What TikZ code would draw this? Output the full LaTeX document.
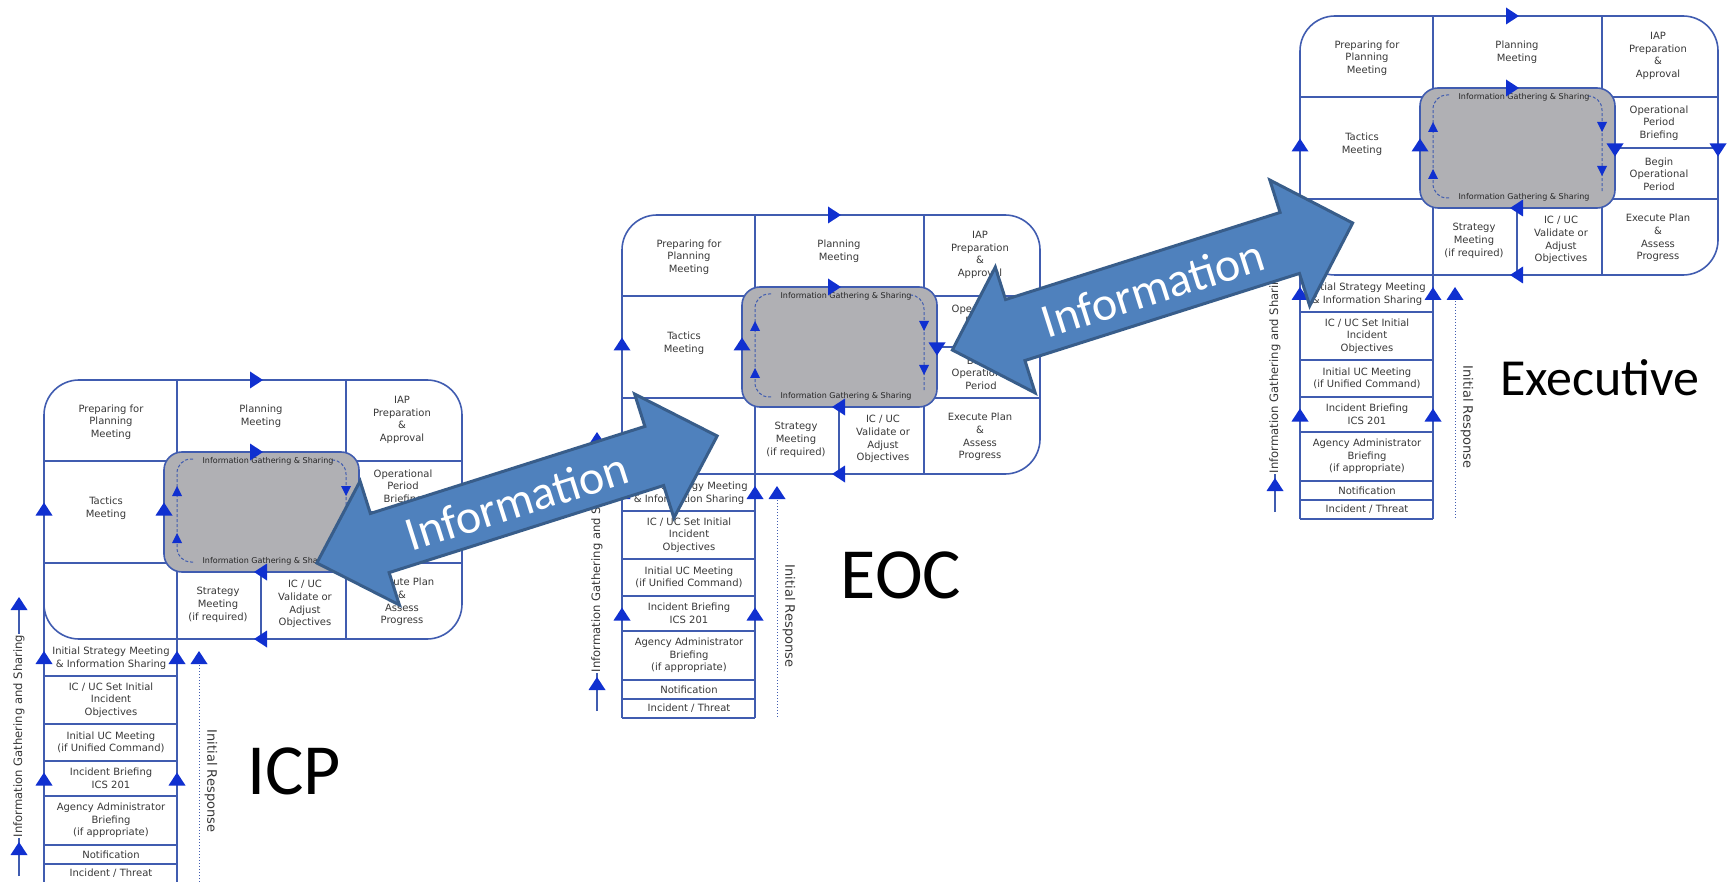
\documentclass[tikz,border=0pt]{standalone}
\usepackage{fontspec}
\newfontfamily\dejavu{DejaVu Sans}
\newfontfamily\carlito{Carlito}
\newcommand{\pcellfont}{\dejavu\fontsize{10}{12.7}\selectfont}
\newcommand{\pigsfont}{\dejavu\fontsize{8}{9}\selectfont}
\newcommand{\pgatherfont}{\dejavu\fontsize{11.6}{13}\selectfont}
\newcommand{\prespfont}{\dejavu\fontsize{13}{15}\selectfont}
\newcommand{\pbigfont}{\carlito\fontsize{72}{80}\selectfont}
\newcommand{\pexecfont}{\carlito\fontsize{52}{60}\selectfont}
\newcommand{\parrowfont}{\carlito\fontsize{48}{54}\selectfont}

\definecolor{pblue}{RGB}{64,92,176}
\definecolor{ptri}{RGB}{16,48,208}
\definecolor{pgrey}{RGB}{176,176,180}
\definecolor{ptext}{RGB}{55,55,55}
\definecolor{ablue}{RGB}{79,129,189}
\definecolor{aedge}{RGB}{56,93,138}

\tikzset{
    pline/.style={draw=pblue, line width=1.6pt},
    dline/.style={draw=pblue, line width=1pt, dash pattern=on 3pt off 2pt},
    rline/.style={draw=pblue, line width=1pt, dotted},
    cell/.style={align=center, text=ptext, inner sep=0pt, font=\pcellfont},
    igs/.style={text=black!85, inner sep=0pt, font=\pigsfont},
    gathertext/.style={text=ptext, fill=white, inner sep=1pt, font=\pgatherfont},
    resptext/.style={text=ptext, inner sep=0pt, font=\prespfont},
    biglabel/.style={inner sep=0pt, font=\pbigfont},
    infoarrow/.style={fill=ablue, draw=aedge, line width=3pt, line join=miter},
    infotext/.style={text=white, inner sep=0pt, font=\parrowfont},
    tri/.pic={\fill[ptri] (-8.5,6.5) -- (8.5,6.5) -- (0,-6.5) -- cycle;},
    smalltri/.pic={\fill[ptri] (-5,5) -- (5,5) -- (0,-5) -- cycle;},
    planningp/.pic={
        % frame and grid
        \draw[pline, rounded corners=35pt] (0,0) rectangle (418,259);
        \draw[pline] (0,35) -- (0,503);
        \draw[pline] (133,0) -- (133,503);
        \draw[pline] (302,0) -- (302,259);
        \draw[pline] (0,81) -- (418,81);
        \draw[pline] (0,183) -- (418,183);
        \draw[pline] (302,132) -- (418,132);
        \draw[pline] (217,192) -- (217,259);
        \foreach \y in {296,344,381,416,465,484,503}
            \draw[pline] (0,\y) -- (133,\y);
        % information gathering loop
        \draw[pline, fill=pgrey, rounded corners=18pt] (120,72) rectangle (315,192);
        \draw[dline, rounded corners=14pt] (149,79) -- (133,79) -- (133,182) -- (149,182);
        \draw[dline, rounded corners=14pt] (288,80) -- (302,80) -- (302,176);
        \node[igs] (-igstop) at (224,81) {Information Gathering \& Sharing};
        \node[igs] (-igsbot) at (224,181) {Information Gathering \& Sharing};
        \pic at (133,111) {smalltri};
        \pic at (133,158) {smalltri};
        \pic[rotate=180] at (302,111) {smalltri};
        \pic[rotate=180] at (302,155) {smalltri};
        % cycle arrows
        \pic[rotate=-90] at (212.5,0) {tri};
        \pic[rotate=-90] at (212.5,72) {tri};
        \pic at (0,129) {tri};
        \pic at (120,129) {tri};
        \pic[rotate=180] at (315,134) {tri};
        \pic[rotate=180] at (418,134) {tri};
        \pic[rotate=90] at (216.5,192) {tri};
        \pic[rotate=90] at (216.5,259) {tri};
        \pic at (0,277.5) {tri};
        \pic at (133,277.5) {tri};
        \pic at (0,399) {tri};
        \pic at (133,399) {tri};
        % initial response
        \draw[rline] (155,285) -- (155,503);
        \pic at (155,277.5) {tri};
        \node[resptext, rotate=-90] (-response) at (167,401) {Initial Response};
        % side arrow
        \draw[pline] (-25,496) -- (-25,230);
        \node[gathertext, rotate=90] (-gather) at (-25,356) {Information Gathering and Sharing};
        \pic at (-25,223.5) {tri};
        \pic at (-25,468.5) {tri};
        % cells
        \node[cell] (-prep) at (67,42) {Preparing for\\Planning\\Meeting};
        \node[cell] (-plan) at (217,36) {Planning\\Meeting};
        \node[cell] (-iap) at (358,40) {IAP\\Preparation\\\&\\Approval};
        \node[cell] (-tactics) at (62,128) {Tactics\\Meeting};
        \node[cell] (-opbrief) at (359,107) {Operational\\Period\\Briefing};
        \node[cell] (-begin) at (359,158) {Begin\\Operational\\Period};
        \node[cell] (-strategy) at (174,225) {Strategy\\Meeting\\(if required)};
        \node[cell] (-validate) at (261,224) {IC / UC\\Validate or\\Adjust\\Objectives};
        \node[cell] (-execute) at (358,222) {Execute Plan\\\&\\Assess\\Progress};
        \node[cell] (-initstrat) at (67,278) {Initial Strategy Meeting\\\& Information Sharing};
        \node[cell] (-setobj) at (67,320) {IC / UC Set Initial\\Incident\\Objectives};
        \node[cell] (-ucmeet) at (67,362.5) {Initial UC Meeting\\(if Unified Command)};
        \node[cell] (-briefing) at (67,398.5) {Incident Briefing\\ICS 201};
        \node[cell] (-agency) at (67,440.5) {Agency Administrator\\Briefing\\(if appropriate)};
        \node[cell] (-notify) at (67,474.5) {Notification};
        \node[cell] (-threat) at (67,493.5) {Incident / Threat};
    }
}

\begin{document}
\begin{tikzpicture}[x=1pt, y=-1pt]
        \useasboundingbox (0,0) rectangle (1732,882);

        \pic (icp) at (44,380) {planningp};
        \pic (eoc) at (622,215) {planningp};
        \pic (exec) at (1300,16) {planningp};

        \node[biglabel] (icplabel) at (294,771) {ICP};
        \node[biglabel] (eoclabel) at (901,575) {EOC};
        \node[biglabel, font=\pexecfont] (execlabel) at (1600,378) {Executive};

        % information flow
        \begin{scope}[shift={(517,499.5)}, rotate=17.6]
            \draw[infoarrow] (-210,0) -- (-144,-65) -- (-144,-31) -- (144,-31)
                -- (144,-65) -- (210,0) -- (144,65) -- (144,31)
                -- (-144,31) -- (-144,65) -- cycle;
        \end{scope}
        \node[infotext, rotate=17.6] (info1) at (517,501) {Information};

        \begin{scope}[shift={(1152.5,286.5)}, rotate=17.6]
            \draw[infoarrow] (-210,0) -- (-144,-66) -- (-144,-32) -- (144,-32)
                -- (144,-66) -- (210,0) -- (144,66) -- (144,32)
                -- (-144,32) -- (-144,66) -- cycle;
        \end{scope}
        \node[infotext, rotate=17.6] (info2) at (1153,288) {Information};
\end{tikzpicture}
\end{document}
